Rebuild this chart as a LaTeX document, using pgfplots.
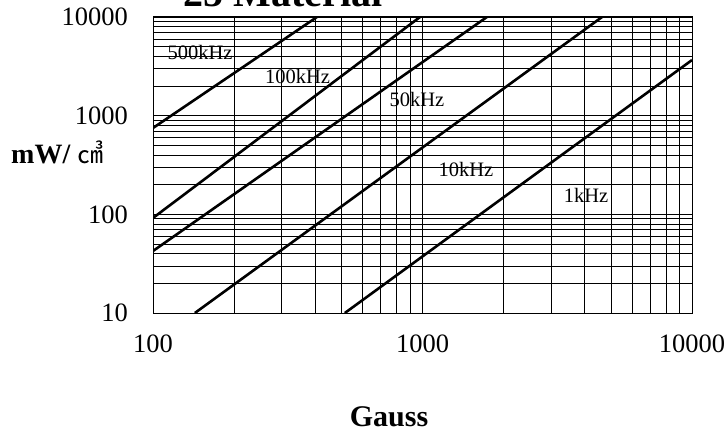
\documentclass[border=0pt]{standalone}
\usepackage{pgfplots}
\pgfplotsset{compat=1.18}
\usepackage{fontspec}
\setmainfont{Liberation Serif}
\newfontfamily\cjk{Noto Sans CJK JP}

\begin{document}
\begin{tikzpicture}[x=1bp,y=1bp]
\begin{loglogaxis}[
    at={(153bp,119bp)}, anchor=south west,
    scale only axis,
    width=539bp, height=296bp,
    xmin=100, xmax=10000,
    ymin=10, ymax=10000,
    xtick={100,1000,10000},
    xticklabels={100,1000,10000},
    ytick={10,100,1000,10000},
    yticklabels={10,100,1000,10000},
    major tick length=0pt,
    minor tick length=0pt,
    grid=both,
    major grid style={black, line width=0.9bp},
    minor grid style={black, line width=0.75bp},
    axis line style={black, line width=1bp},
    tick label style={font=\fontsize{26.5bp}{30bp}\selectfont, inner sep=0pt},
    xticklabel style={anchor=north, yshift=-22bp},
    yticklabel style={anchor=east, xshift=-25bp},
    /pgf/number format/assume math mode=true,
    clip=true,
]
    % 500kHz
    \addplot[black, line width=2.6bp] coordinates {(100,750) (406,10000)};
    % 100kHz
    \addplot[black, line width=2.6bp] coordinates {(100,91.9) (979,10000)};
    % 50kHz
    \addplot[black, line width=2.6bp] coordinates {(100,42.5) (1734,10000)};
    % 10kHz
    \addplot[black, line width=2.6bp] coordinates {(143,10) (4636,10000)};
    % 1kHz
    \addplot[black, line width=2.6bp] coordinates {(515,10) (10000,3664)};

    \node[font=\fontsize{20.5bp}{24bp}\selectfont, inner sep=0pt] at (axis cs:149.5,4418) {500kHz};
    \node[font=\fontsize{20.5bp}{24bp}\selectfont, inner sep=0pt] at (axis cs:343.8,2495) {100kHz};
    \node[font=\fontsize{20.5bp}{24bp}\selectfont, inner sep=0pt] at (axis cs:954,1442) {50kHz};
    \node[font=\fontsize{20.5bp}{24bp}\selectfont, inner sep=0pt] at (axis cs:1450,281.5) {10kHz};
    \node[font=\fontsize{20.5bp}{24bp}\selectfont, inner sep=0pt] at (axis cs:4044,155.2) {1kHz};
\end{loglogaxis}

% title, cut by the top edge as in the scan
\node[anchor=base, inner sep=0pt, font=\fontsize{40bp}{44bp}\selectfont\bfseries] at (283,425) {25 Material};
% y label
\node[anchor=base west, inner sep=0pt, font=\fontsize{28bp}{32bp}\selectfont\bfseries] at (11,269) {mW/ {\cjk\mdseries\fontsize{26bp}{30bp}\selectfont ㎤}};
% x label
\node[anchor=base, inner sep=0pt, font=\fontsize{30bp}{34bp}\selectfont\bfseries] at (389,6) {Gauss};

\pgfresetboundingbox
\useasboundingbox (0,0) rectangle (725,432);
\end{tikzpicture}
\end{document}
